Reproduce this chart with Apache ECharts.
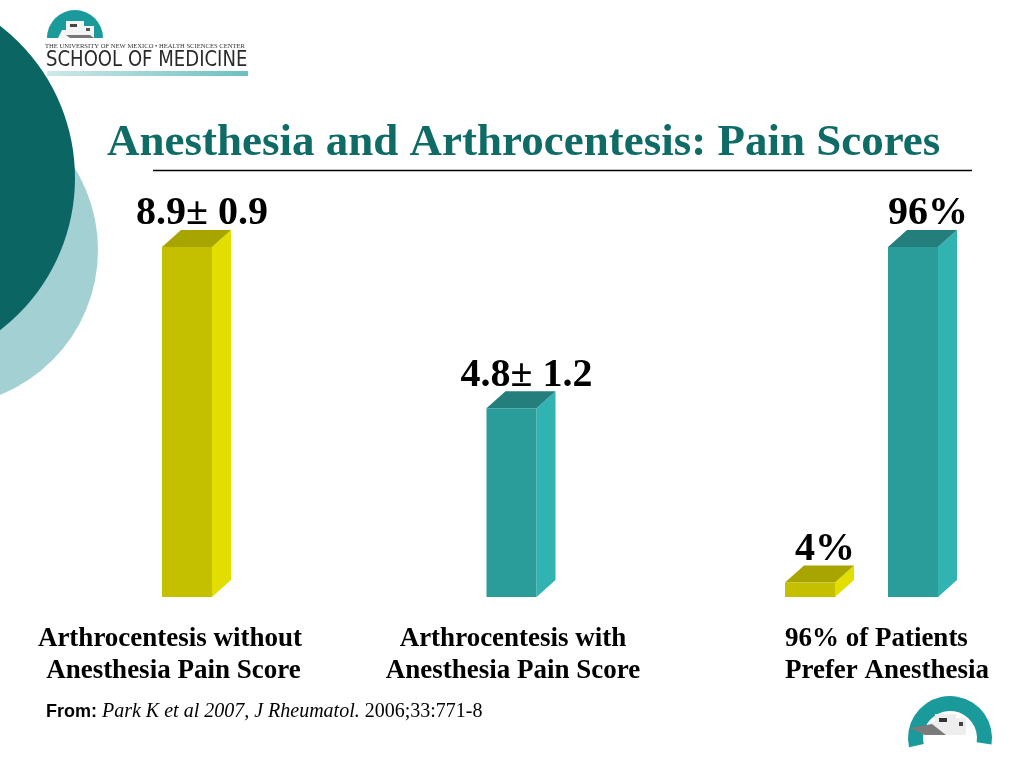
<!DOCTYPE html>
<html><head><meta charset="utf-8">
<script src="https://cdn.jsdelivr.net/npm/echarts@6/dist/echarts.min.js"></script>
<style>html,body{margin:0;padding:0;background:#fff}#chart{width:1024px;height:768px}</style>
</head><body><div id="chart"></div>
<script>
// ---- data ----
const categories = ['Arthrocentesis without\n Anesthesia Pain Score', 'Arthrocentesis with\nAnesthesia Pain Score', '96% of Patients\nPrefer Anesthesia'];
const painScores = [8.9, 4.8];
const painLabels = ['8.9\u00b1 0.9', '4.8\u00b1 1.2'];
const preference = [4, 96];
const preferenceLabels = ['4%', '96%'];
const titleText = 'Anesthesia and Arthrocentesis: Pain Scores';

// ---- styles ----
const YELLOW = {front: '#c4c000', side: '#e2de00', top: '#a9a500'};
const TEAL = {front: '#2a9c99', side: '#31b3b1', top: '#247f7c'};
const BAR_W = 50, DX = 19, DY = 17;
const SERIF = '"Liberation Serif","Times New Roman",serif';

function makeRender(labels, offsets, palettes) {
  return function (params, api) {
    const i = params.dataIndex;
    const cat = api.value(0), v = api.value(1);
    const top = api.coord([cat, v]);
    const base = api.coord([cat, 0]);
    const cx = top[0] + offsets[i];
    const x0 = cx - BAR_W / 2, x1 = cx + BAR_W / 2;
    const yT = top[1], yB = base[1];
    const p = palettes[i];
    return {
      type: 'group',
      children: [
        {type: 'polygon', shape: {points: [[x1, yT], [x1 + DX, yT - DY], [x1 + DX, yB - DY], [x1, yB]]}, style: {fill: p.side}},
        {type: 'polygon', shape: {points: [[x0, yT], [x0 + DX, yT - DY], [x1 + DX, yT - DY], [x1, yT]]}, style: {fill: p.top}},
        {type: 'rect', shape: {x: x0, y: yT, width: BAR_W, height: yB - yT}, style: {fill: p.front}},
        {type: 'text', x: cx + 15, y: yT - DY + 4, style: {text: labels[i], fill: '#000', font: 'bold 40px ' + SERIF, align: 'center', verticalAlign: 'bottom'}}
      ]
    };
  };
}

const chart = echarts.init(document.getElementById('chart'));
const labelShift = [[0, 34, 0, 0], [0, 23, 0, 0], [0, 0, 0, 50]];

chart.setOption({
  animation: false,
  backgroundColor: '#fff',
  title: {
    text: titleText, left: 107, top: 121, padding: 0,
    textStyle: {fontFamily: SERIF, fontWeight: 'bold', fontSize: 45, color: '#0e6b66'}
  },
  grid: {left: 187, right: 162, top: 247, bottom: 171},
  xAxis: {
    type: 'category', data: categories, boundaryGap: false,
    axisLine: {show: false}, axisTick: {show: false}, splitLine: {show: false},
    axisLabel: {
      interval: 0, margin: 26,
      formatter: function (value, index) {
        const key = ['a', 'b', 'c'][index];
        return value.split('\n').map(function (l) { return '{' + key + '|' + l + '}'; }).join('\n');
      },
      rich: {
        a: {fontFamily: SERIF, fontWeight: 'bold', fontSize: 27, lineHeight: 32, color: '#000', padding: labelShift[0]},
        b: {fontFamily: SERIF, fontWeight: 'bold', fontSize: 27, lineHeight: 32, color: '#000', padding: labelShift[1]},
        c: {fontFamily: SERIF, fontWeight: 'bold', fontSize: 27, lineHeight: 32, color: '#000', padding: labelShift[2], align: 'left'}
      }
    }
  },
  yAxis: [
    {type: 'value', min: 0, max: 8.9, show: false, splitLine: {show: false}},
    {type: 'value', min: 0, max: 96, show: false, splitLine: {show: false}}
  ],
  series: [
    {
      type: 'custom', name: 'Pain score', yAxisIndex: 0, clip: false,
      encode: {x: 0, y: 1},
      data: painScores.map(function (v, i) { return [i, v]; }),
      renderItem: makeRender(painLabels, [0, -13], [YELLOW, TEAL])
    },
    {
      type: 'custom', name: 'Preference', yAxisIndex: 1, clip: false,
      encode: {x: 0, y: 1},
      data: preference.map(function (v) { return [2, v]; }),
      renderItem: makeRender(preferenceLabels, [-52, 51], [YELLOW, TEAL])
    }
  ],
  graphic: [
    // decorative circles
    {type: 'circle', z: -10, shape: {cx: -58, cy: 250, r: 156}, style: {fill: '#a2d0d3'}},
    {type: 'circle', z: -9, shape: {cx: -117, cy: 178, r: 192}, style: {fill: '#0b6663'}},
    // title underline
    {type: 'line', shape: {x1: 153, y1: 170.5, x2: 972, y2: 170.5}, style: {stroke: '#000', lineWidth: 1.5}},
    // top-left logo
    {type: 'sector', shape: {cx: 75, cy: 38, r: 28, r0: 0, startAngle: Math.PI, endAngle: 2 * Math.PI}, style: {fill: '#1b9a9c'}},
    {type: 'polygon', shape: {points: [[58, 38], [62, 30], [66, 30], [66, 21], [84, 21], [84, 26], [94, 26], [94, 38]]}, style: {fill: '#f4f4f4'}},
    {type: 'polygon', shape: {points: [[66, 35], [90, 35], [94, 38], [70, 38]]}, style: {fill: '#777'}},
    {type: 'rect', shape: {x: 70, y: 24, width: 7, height: 3}, style: {fill: '#444'}},
    {type: 'rect', shape: {x: 86, y: 28, width: 4, height: 3}, style: {fill: '#555'}},
    {type: 'text', x: 45, y: 46, style: {text: 'THE UNIVERSITY OF NEW MEXICO \u2022 HEALTH SCIENCES CENTER', font: '6.6px ' + SERIF, fill: '#333', verticalAlign: 'middle'}},
    {type: 'text', x: 46, y: 61, scaleX: 0.86, style: {text: 'SCHOOL OF MEDICINE', font: '21px "DejaVu Sans","Liberation Sans",sans-serif', fill: '#2a2a2a', verticalAlign: 'middle'}},
    {type: 'rect', shape: {x: 47, y: 71, width: 201, height: 5}, style: {fill: new echarts.graphic.LinearGradient(0, 0, 1, 0, [{offset: 0, color: '#cfe8e8'}, {offset: 1, color: '#6dbfc0'}])}},
    // bottom-right logo
    {type: 'sector', shape: {cx: 950, cy: 738, r: 42, r0: 27, startAngle: Math.PI * 0.93, endAngle: Math.PI * 2.05}, style: {fill: '#1b9a9c'}},
    {type: 'polygon', shape: {points: [[926, 727], [932, 722], [935, 722], [935, 714], [956, 714], [956, 718], [966, 718], [966, 735], [946, 735]]}, style: {fill: '#eeeeee'}},
    {type: 'polygon', shape: {points: [[910, 728], [932, 724], [946, 735], [925, 735]]}, style: {fill: '#7a7a7a'}},
    {type: 'rect', shape: {x: 939, y: 718, width: 8, height: 4}, style: {fill: '#333'}},
    {type: 'rect', shape: {x: 959, y: 722, width: 4, height: 4}, style: {fill: '#444'}},
    // source footnote
    {type: 'text', x: 46, y: 712, style: {
      text: '{b|From: }{i|Park K et al 2007, J Rheumatol.}{r| 2006;33:771-8}', verticalAlign: 'middle',
      rich: {
        b: {fontFamily: '"Liberation Sans",Arial,sans-serif', fontWeight: 'bold', fontSize: 18, fill: '#000'},
        i: {fontFamily: SERIF, fontStyle: 'italic', fontSize: 20, fill: '#000'},
        r: {fontFamily: SERIF, fontSize: 20, fill: '#000'}
      }
    }}
  ]
});
</script>
</body></html>
